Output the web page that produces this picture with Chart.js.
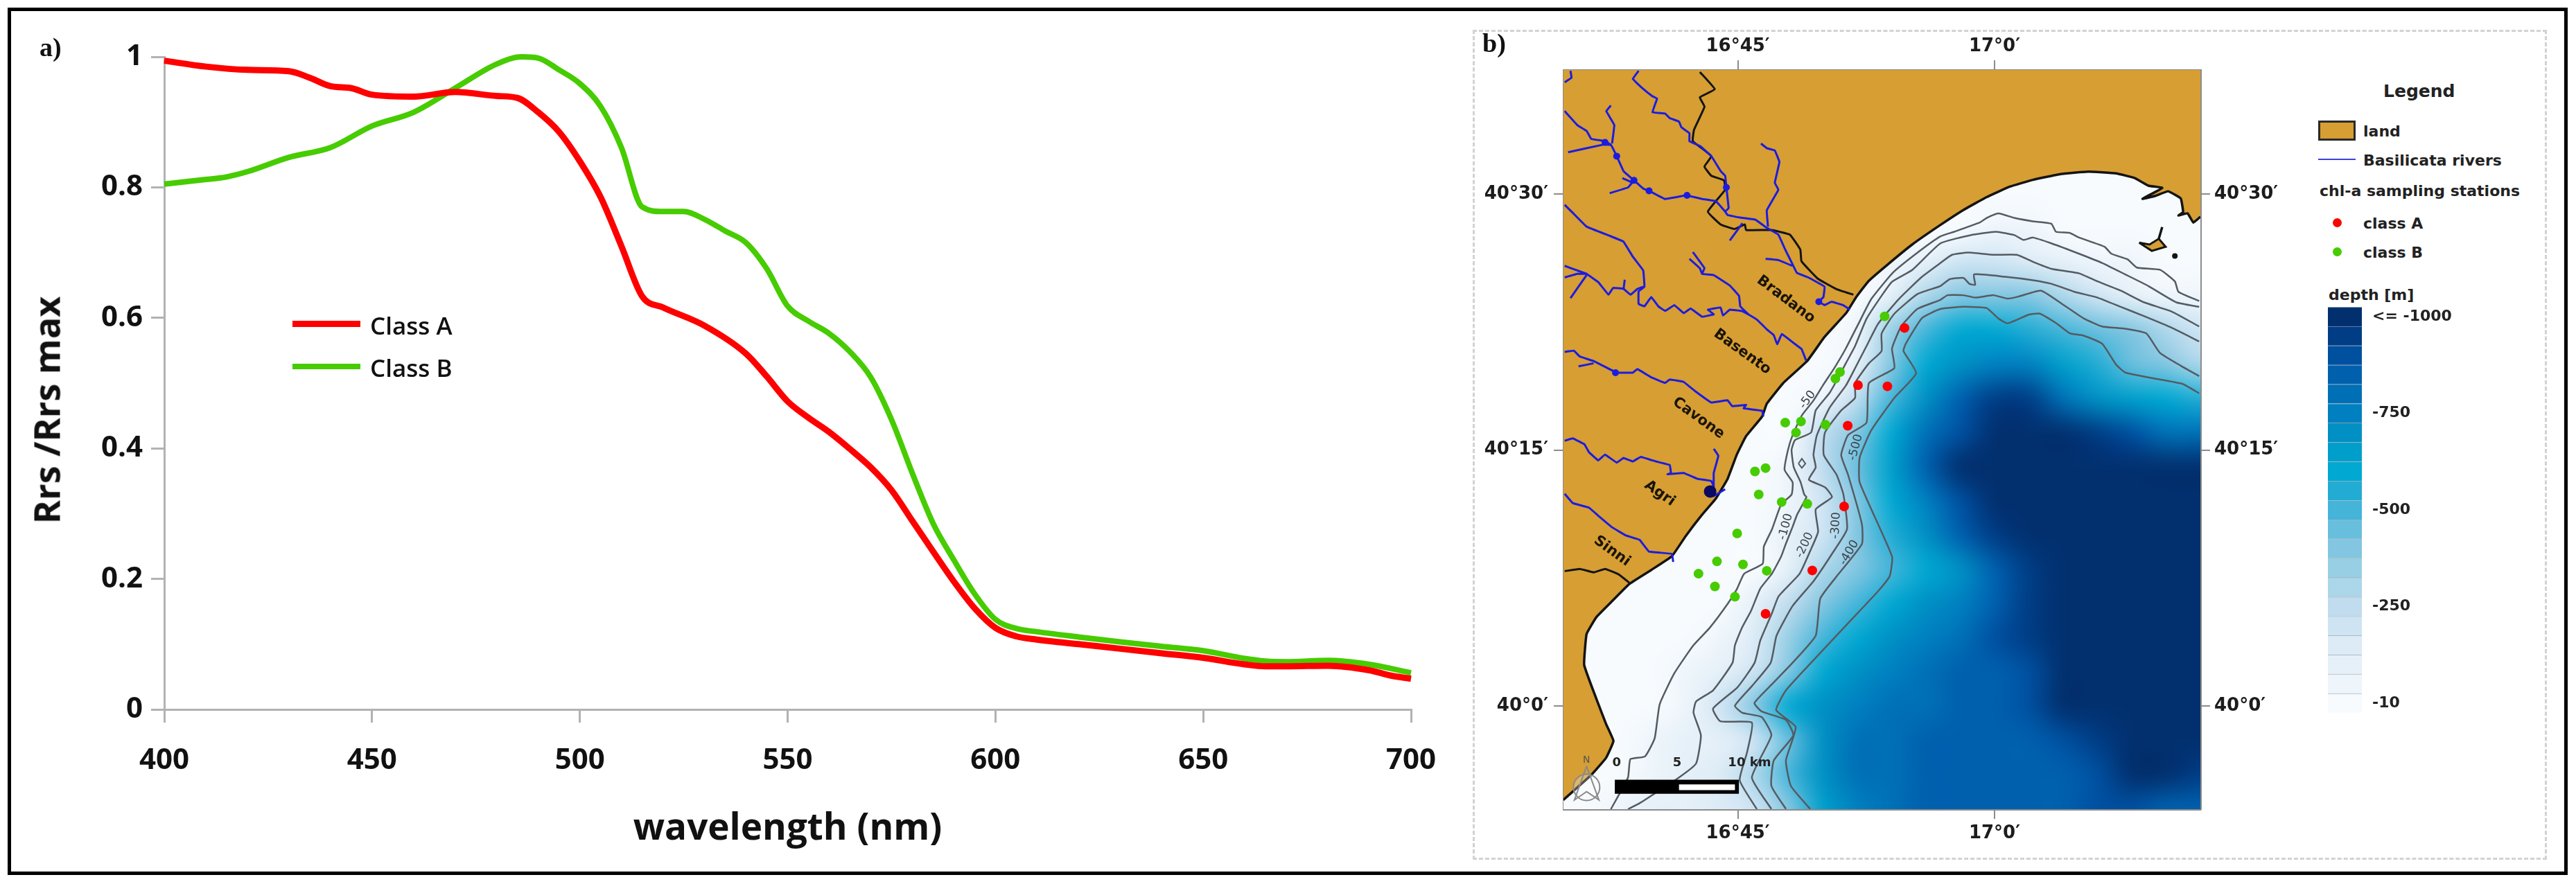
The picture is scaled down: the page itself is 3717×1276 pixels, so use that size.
<!DOCTYPE html>
<html>
<head>
<meta charset="utf-8">
<title>Rrs spectra and sampling stations</title>
<script src="https://cdn.jsdelivr.net/npm/chart.js@4"></script>
<style>
  html,body{margin:0;padding:0;background:#fff;}
  body{position:relative;width:3717px;height:1276px;overflow:hidden;}
  canvas{position:absolute;}
  .frame{position:absolute;left:11px;top:11px;width:3684px;height:1242px;border:5px solid #000;}
  .dots{position:absolute;left:2125px;top:43px;width:1544px;height:1192px;border:3px dashed #d2d2d2;}
  .lbl{position:absolute;white-space:nowrap;transform:translateY(-50%);color:#111;}
  .leg{font:bold 22px "DejaVu Sans";color:#222;}
  .swatch{position:absolute;}
</style>
</head>
<body>
<div class="frame"></div>
<div class="dots"></div>
<canvas id="spectra" width="2120" height="1276" style="left:0;top:0"></canvas>
<canvas id="map" width="1200" height="1276" style="left:2100px;top:0"></canvas>
<canvas id="depthBar" width="220" height="586" style="left:3359px;top:443px"></canvas>

<script>
/* =========================================
   PANEL A DATA  (wavelength nm, Rrs/Rrs max)
========================================= */

const classAWave = [400,410,420,430,435,440,445,450,460,470,480,485,490,495,500,505,510,515,520,530,540,545,550,555,560,565,570,575,580,585,590,595,600,605,610,620,630,640,650,660,665,670,680,690,695,700];
const classARrs  = [.994,.985,.98,.978,.968,.955,.952,.942,.939,.946,.94,.937,.915,.885,.84,.785,.71,.633,.616,.588,.545,.51,.472,.447,.425,.399,.371,.336,.289,.242,.196,.155,.125,.112,.107,.1,.093,.086,.079,.069,.066,.066,.067,.06,.052,.047];

const classBWave = [400,410,415,420,430,440,450,460,470,480,486,490,495,500,505,510,515,520,525,530,535,540,545,550,555,560,565,570,575,580,585,590,595,600,605,610,620,630,640,650,660,665,670,680,690,700];
const classBRrs  = [.805,.812,.816,.824,.846,.861,.894,.915,.952,.989,1,.998,.98,.959,.924,.861,.77,.763,.763,.751,.733,.715,.675,.618,.595,.576,.548,.509,.444,.362,.285,.229,.177,.138,.124,.119,.111,.1035,.0966,.09,.078,.074,.073,.075,.069,.056];

/* =========================================
   PANEL B DATA  (minutes east of 16deg, minutes north of 40deg)
========================================= */

const coast = [[72.03,28.67],[71.62,28.33],[71.28,28.87],[70.75,28.74],[71.02,28.94],[70.88,29.75],[70.14,30.16],[69.4,29.89],[68.65,29.72],[69.8,30.36],[68.99,30.49],[68.18,30.94],[67.1,31.21],[65.48,31.31],[63.86,31.17],[62.24,30.83],[60.89,30.43],[59.54,29.82],[58.19,29.07],[56.84,28.19],[55.2,27.05],[53.78,25.89],[52.64,24.9],[51.93,23.98],[51.35,23.05],[50.07,21.63],[49.05,20.21],[47.66,18.93],[46.69,17.71],[46.42,16.96],[45.48,15.81],[44.94,14.73],[44.4,13.31],[43.72,12.16],[42.91,11.21],[41.97,9.98],[41.15,8.78],[39.94,7.97],[38.66,7.15],[37.58,6.07],[36.73,5.2],[36.16,4.21],[36.02,2.4],[36.73,.42],[37.3,-1.06],[37.73,-2.05],[37.3,-3.04],[36.45,-4.03],[34.8,-5.51]];
const landCorners = [[34,-5.9],[34,38],[73,38],[73,28.6]];
const island = [[68.45,27.15],[69.06,27.04],[69.6,27.38],[70,26.91],[69.19,26.67]];
const islandSpike = [[69.6,27.38],[69.8,28.06]];
const islet = [[70.54,26.37]];

const borderNorth = [[42.78,37.15],[43.65,36.14],[42.78,35.67],[43.05,35.12],[42.44,33.77],[42.37,33.1],[43.45,32.22],[43.05,31.61],[43.45,31.07],[44.19,30.8],[44.26,30.25],[43.25,28.97],[43.99,28.22],[44.8,27.95],[45.41,28.22],[45.48,27.89],[46.96,27.89],[48.04,27.62],[48.65,26.74],[48.72,26.06],[49.66,25.05],[50.74,24.44],[51.75,24.1]];
const borderSouth = [[34.88,7.9],[35.76,8.03],[36.57,7.83],[37.24,8.03],[38.05,7.7],[38.66,7.22]];

const rivers = [
  [[35.22,37.22],[35.28,36.82],[34.88,36.55]],
  [[39.2,37.22],[38.86,36.75],[39.33,36.28],[40.01,35.73],[40.28,35.6],[40.01,34.79],[40.75,34.72],[41.02,34.45],[41.56,34.25],[41.7,33.91],[42.17,33.57],[42.17,33.1],[42.78,32.82],[43.45,32.22],[44,31.34],[44.26,31.07],[44.33,30.39],[44.46,29.17],[44.26,28.97],[44.4,28.77],[45.07,28.63],[46.02,28.5],[46.69,28.02],[47.37,27.62],[47.77,26.74],[48.18,25.92],[48.45,25.38],[49.12,25.11],[50.07,24.57],[50,23.96],[49.73,23.69],[50.07,23.49],[50.47,23.69],[51.15,23.49],[51.55,23.22]],
  [[34.88,34.86],[35.62,34.04],[36.16,33.7],[36.43,33.23],[37.24,33.1],[37.58,32.89],[37.92,32.22],[38.32,31.34],[38.86,30.86],[39.47,30.32],[39.81,30.19],[40.75,29.71],[41.97,29.92],[42.91,29.71],[43.72,29.58],[44.26,28.97]],
  [[35.08,32.45],[37.11,32.89],[37.58,32.89]],
  [[37.58,35.19],[37.31,34.86],[37.78,34.04],[37.65,32.96]],
  [[37.51,30.05],[38.59,30.39],[38.93,30.8]],
  [[38.25,30.93],[38.86,30.66]],
  [[46.35,32.96],[46.69,32.69],[47.16,32.55],[47.43,31.88],[47.16,30.66],[47.37,30.25],[46.69,29.04],[46.76,28.09]],
  [[45.27,28.29],[44.53,27.28]],
  [[46.62,26.2],[47.37,26.13],[48.18,25.79]],
  [[34.88,29.37],[35.35,28.9],[36.16,28.09],[37.51,27.55],[38.32,27.21],[38.86,26.33],[39.47,25.52],[39.54,24.57],[39.2,24.3],[39.2,23.56],[39.54,23.42],[39.94,23.96],[40.35,23.42],[40.75,23.15],[41.29,23.49],[41.83,23.02],[42.24,23.29],[42.91,22.81],[43.59,22.95],[43.25,23.22],[43.99,23.35],[44.13,22.88],[44.53,23.22],[45.21,23.15],[45.61,22.95],[46.15,22.61],[46.69,22.07],[47.1,21.73],[47.3,21.19],[47.57,21.8],[48.18,21.33],[48.72,20.92],[48.99,20.24]],
  [[34.88,25.79],[35.62,25.52],[36.16,25.32],[36.84,24.84],[37.44,24.1],[37.71,24.5],[38.32,24.44],[38.73,24.1],[39.13,24.44],[39.47,24.57]],
  [[38.39,24.98],[38.32,24.44]],
  [[34.88,25.11],[35.62,25.32],[36.16,25.32]],
  [[35.22,23.9],[36.16,25.25]],
  [[42.37,26.6],[43.05,25.65],[42.91,25.32],[43.59,25.25],[44.53,24.64],[45.07,24.03],[45.14,23.42],[45.61,22.95]],
  [[42.17,26.2],[42.78,25.65],[42.91,25.32]],
  [[34.88,20.75],[35.42,20.82],[35.76,20.48],[36.57,20.21],[37.11,19.94],[37.92,19.53],[38.86,19.53],[39.13,19.74],[39.94,19.26],[40.75,18.93],[41.02,19.13],[41.83,18.99],[42.5,18.45],[43.45,17.78],[44.4,17.91],[44.67,17.57],[45.48,17.64],[45.34,17.44],[46.42,17.3],[46.49,16.96]],
  [[35.69,19.9],[36.57,20.08]],
  [[34.88,15.54],[35.35,15.68],[36.03,15.34],[36.3,14.87],[36.84,14.39],[37.24,14.73],[37.92,14.26],[38.32,14.53],[38.86,14.33],[39.33,14.6],[40.21,14.33],[41.02,14.12],[41.09,13.65],[40.89,13.58],[41.83,13.65],[42.64,13.31],[43.45,13.18],[43.59,12.84],[43.32,12.57],[43.59,12.3],[44.26,12.7]],
  [[43.59,15.07],[43.86,14.66],[43.59,13.65],[43.59,12.84]],
  [[34.88,12.43],[35.35,11.89],[36.3,11.62],[36.84,11.15],[37.65,10.47],[38.46,9.99],[39.26,9.73],[39.8,9.05],[41.15,8.91],[41.22,8.44]]
];
const riverBlobs = [[38.93,30.8],[39.81,30.19],[42.03,29.92],[37.24,33.03],[37.92,32.22],[37.85,19.53],[49.73,23.69],[44.33,30.39]];
const agriMouth = [[43.38,12.57]];

const contour1 = [[71.96,23.73],[70.75,24.27],[70.54,24.88],[69.67,25.56],[68.32,25.69],[67.78,26.17],[66.83,26.5],[66.43,26.91],[64.94,27.45],[64.4,27.72],[63.59,27.79],[63.32,28.26],[62.24,28.4],[61.16,28.6],[60.22,28.87],[59.54,28.6],[59.14,28.33],[57.65,27.79],[56.84,27.52],[55.48,26.55],[54.06,25.39],[52.8,23.85],[52.12,22.54],[51.31,20.95],[50.63,19.79],[49.96,18.77],[49.42,17.9],[48.74,17.03],[48.2,15.87],[47.93,15],[47.73,13.84],[48.2,13.11],[48.14,12.39],[47.53,11.81],[47,10.36],[46.52,9.34],[46.45,8.33],[45.37,7.75],[44.96,6.88],[44.42,6.01],[43.34,4.56],[42.4,3.55],[41.28,1.9],[40.43,.09],[40.14,-1.89],[39.57,-2.96],[38.72,-3.12],[38.58,-4.19],[37.58,-6.05]];
const contour2 = [[71.96,23.39],[70.61,23.66],[68.99,24.61],[67.64,25.29],[66.29,25.96],[64.94,26.5],[63.32,27.11],[62.24,27.45],[61.7,27.31],[61.16,27.59],[60.08,27.79],[58.6,27.59],[56.84,27.11],[55.2,25.56],[54.01,24.86],[53.47,24.14],[52.52,22.69],[51.85,21.09],[51.31,20.08],[50.77,19.06],[50.36,18.34],[49.55,17.32],[49.28,16.02],[48.34,15.58],[48.14,15],[48.27,13.98],[48.67,13.11],[48.88,12.39],[49.01,12.24],[48.47,11.23],[48.2,10.5],[47.8,9.49],[47.53,8.76],[46.99,7.75],[46.31,6.88],[45.77,5.57],[45.23,4.56],[44.83,3.55],[44.69,2.53],[43.55,.91],[42.56,.26],[42.41,-.4],[42.84,-1.72],[42.56,-3.37],[41.56,-4.19],[39.29,-5.68],[38.58,-6.05]];
const contour3 = [[71.96,22.24],[70.34,23.12],[68.72,23.66],[67.37,24.34],[66.02,24.88],[64.94,25.35],[63.32,25.62],[62.24,26.03],[61.3,26.44],[59.95,26.44],[58.46,26.57],[57.52,26.44],[56.84,25.96],[55.76,25.15],[54.41,23.85],[53.2,22.4],[52.52,21.09],[51.85,19.79],[51.31,18.77],[50.36,17.47],[49.62,15.87],[49.42,14.71],[49.55,13.98],[49.15,13.26],[50.09,12.82],[50.5,12.24],[49.55,11.52],[49.69,10.21],[49.28,9.2],[48.61,7.75],[47.39,6.44],[46.99,5.43],[46.31,3.83],[45.98,2.53],[44.97,1.08],[43.55,-.16],[43.98,-.9],[45.82,-.98],[45.54,-2.71],[45.11,-4.36],[46.11,-6.05]];
const contour4 = [[71.96,21.36],[70.34,22.17],[68.72,22.85],[67.37,23.39],[66.02,23.93],[64.67,24.27],[63.32,24.74],[62.24,24.95],[60.62,25.15],[58.8,25.29],[58.87,24.68],[58.53,24.74],[58.19,25.08],[57.38,25.01],[56.84,24.61],[55.5,24.14],[54.14,22.98],[53.4,21.82],[53.4,20.8],[52.66,20.08],[51.85,18.92],[51.85,18.05],[51.04,17.32],[50.09,16.02],[50.02,14.71],[50.77,13.55],[51.17,12.39],[51.38,10.36],[50.5,8.91],[49.42,7.31],[48.2,5.86],[47.26,4.12],[46.92,2.53],[45.82,1.16],[44.83,.01],[45.26,-.4],[46.39,-.65],[46.96,-1.72],[45.82,-4.19],[46.96,-6.04]];
const contour5 = [[71.96,19.33],[70.88,19.94],[69.67,20.69],[68.86,21.84],[67.64,22.11],[66.29,22.24],[65.21,22.71],[63.99,23.53],[62.71,24.34],[61.43,24],[60.76,23.87],[59.95,24.07],[58.87,23.93],[58.19,24.07],[57.25,24.07],[56.84,23.8],[55.5,23.27],[54.55,22.25],[54.01,20.95],[54.14,19.79],[52.66,18.92],[52.52,16.6],[51.44,15.87],[51.04,14.71],[51.44,13.55],[52.25,10.65],[52.25,9.49],[50.9,7.75],[49.82,6.3],[49.55,4.12],[48.2,2.53],[46.96,1.24],[45.97,.17],[46.39,-.32],[47.81,-.82],[48.24,-1.72],[47.1,-3.2],[46.96,-4.69],[47.81,-6.04]];
const contour6 = [[71.96,18.32],[71.02,18.86],[69.67,19.13],[67.64,19.54],[67.1,20.01],[66.29,21.23],[65.21,21.7],[64.4,21.84],[63.59,22.44],[62.64,22.99],[61.97,22.92],[60.76,22.42],[60.22,22.71],[59.54,23.32],[58.19,23.39],[56.84,23.26],[55.77,22.74],[54.82,21.24],[54.68,20.8],[55.42,19.5],[54.14,18.05],[52.8,16.16],[52.12,14.56],[52.12,13.11],[54.01,8.76],[53.87,7.6],[53.2,6.73],[51.44,4.85],[49.28,2.53],[47.81,.91],[47.24,-.24],[48.38,-1.23],[47.81,-3.2],[48.1,-4.69],[49.23,-6.04]];
const contourRing = [[48.54,14.2],[48.74,14.49],[48.95,14.2],[48.74,13.95]];

const stationsA = [[54.74,22.15],[52.02,18.8],[53.74,18.73],[51.42,16.42],[51.21,11.69],[49.35,7.94],[46.62,5.4]];
const stationsB = [[53.58,22.83],[50.97,19.57],[50.7,19.18],[47.77,16.6],[48.69,16.67],[48.4,16.02],[50.12,16.48],[46.62,13.94],[46,13.74],[46.22,12.39],[47.56,11.95],[49.06,11.84],[44.96,10.11],[43.78,8.47],[45.3,8.29],[46.69,7.92],[42.7,7.75],[43.66,7],[44.83,6.4]];

const riverNames  = ["Bradano","Basento","Cavone","Agri","Sinni"];
const riverLon    = [47.81,45.26,42.7,40.43,37.64];
const riverLat    = [23.82,20.75,16.86,12.45,9.07];
const riverAngle  = [37,36,36,35,36];

const depthNames  = ["-50","-100","-200","-300","-400","-500"];
const depthLblLon = [49.08,47.8,48.91,50.74,51.51,51.89];
const depthLblLat = [17.94,10.5,9.42,10.58,8.98,15.15];
const depthAngle  = [-54,-75,-65,-87,-60,-75];

const scaleBarBlack = [[37.81,-4.32],[45.06,-4.32],[45.06,-5.15],[37.81,-5.15]];
const scaleBarWhite = [[41.56,-4.6],[44.83,-4.6],[44.83,-4.93],[41.56,-4.93]];
const scaleNames = ["0","5","10 km"];
const scaleLon   = [37.92,41.45,45.68];
const scaleLat   = [-3.34,-3.34,-3.34];

const northArrow = [[36.16,-3.53],[35.45,-5.51],[36.16,-5.02],[36.88,-5.51]];
const northRing  = [[36.16,-4.77]];

const depthLon = [34,36,38,40,42,44,46,48,50,52,54,56,58,60,62,64,66,68,70,72];
const depthLat = [32,30,28,26,24,22,20,18,16,14,12,10,8,6,4,2,0,-2,-4,-6];
const depth32 = [10,10,10,10,10,10,10,10,10,10,10,10,10,10,10,10,10,10,10,10];
const depth30 = [10,10,10,10,10,10,10,10,10,10,10,10,10,10,10,10,10,10,10,10];
const depth28 = [10,10,10,10,10,10,10,10,10,10,10,10,30,50,35,22,15,12,10,10];
const depth26 = [10,10,10,10,10,10,10,10,10,10,35,90,200,210,180,110,70,40,22,15];
const depth24 = [10,10,10,10,10,10,10,10,10,15,130,300,400,400,410,290,200,110,60,40];
const depth22 = [10,10,10,10,10,10,10,10,10,80,350,520,620,600,540,510,470,400,320,210];
const depth20 = [10,10,10,10,10,10,10,10,30,100,400,610,720,770,740,640,540,480,400,330];
const depth18 = [10,10,10,10,10,10,10,10,60,280,490,680,830,950,960,820,720,660,620,560];
const depth16 = [10,10,10,10,10,10,10,25,250,420,600,780,920,1000,1000,1000,950,900,820,780];
const depth14 = [10,10,10,10,10,10,10,70,250,480,650,830,980,1000,1000,1000,1000,1000,1000,980];
const depth12 = [10,10,10,10,10,10,15,70,200,430,620,760,920,1000,1000,1000,1000,1000,1000,1000];
const depth10 = [10,10,10,10,10,10,25,100,230,430,530,680,850,970,1000,1000,1000,1000,1000,1000];
const depth08 = [10,10,10,10,10,15,25,130,300,400,510,600,720,830,950,1000,1000,1000,1000,1000];
const depth06 = [10,10,10,10,10,20,100,260,400,500,600,680,770,870,950,1000,1000,1000,1000,1000];
const depth04 = [10,10,10,10,30,80,170,340,510,600,680,750,820,880,950,1000,1000,1000,1000,1000];
const depth02 = [10,10,10,15,60,90,210,400,600,690,750,790,830,870,920,1000,1000,1000,1000,1000];
const depth00 = [10,10,10,30,70,230,400,610,680,750,790,820,850,870,900,1000,1000,1000,1000,1000];
const depthM2 = [10,10,10,50,90,130,200,450,700,780,810,830,850,860,870,880,960,1000,1000,1000];
const depthM4 = [10,10,15,55,110,150,300,500,720,790,820,830,830,840,850,870,920,1000,1000,960];
const depthM6 = [10,10,60,110,130,160,210,420,650,770,810,830,830,840,850,860,880,900,860,830];
const depthGrid = [depth32,depth30,depth28,depth26,depth24,depth22,depth20,depth18,depth16,depth14,depth12,depth10,depth08,depth06,depth04,depth02,depth00,depthM2,depthM4,depthM6];

/* colour bar, shallow (-10) to deep (<= -1000) */
const depthColors = ["#f7fbfe","#eef5fb","#e5f0f8","#dcebf6","#cee4f3","#c0dcee","#acd6ea","#98cfe5","#82c6e1","#68bedd","#44b5d9","#22acd4","#00a8d2","#009fcb","#0090c4","#0080c0","#0070b6","#0060ae","#0050a0","#003d85","#02306f"];
const depthTickRows   = [.5,5.5,10.5,15.5,20.5];
const depthTickLabels = ["-10","-250","-500","-750","<= -1000"];

/* =========================================
   HELPERS
========================================= */

const RED = "#ff0000";
const GREEN = "#46cc00";
const LAND = "#d69e33";
const RIVER = "#1c1ce0";
const CONTOUR = "#555b62";
const FRAME = "#8c8c8c";

function pts(list){
  return list.map(p => ({x:p[0],y:p[1]}));
}

function zip(xs,ys){
  return xs.map((x,i) => ({x:x,y:ys[i]}));
}

function label(text,x,y,css){
  const el = document.createElement("div");
  el.className = "lbl";
  el.textContent = text;
  el.style.left = x+"px";
  el.style.top = y+"px";
  el.style.cssText += css || "";
  document.body.appendChild(el);
  return el;
}

function swatch(x,y,w,h,css){
  const el = document.createElement("div");
  el.className = "swatch";
  el.style.cssText = "left:"+x+"px;top:"+y+"px;width:"+w+"px;height:"+h+"px;"+css;
  document.body.appendChild(el);
}

function lineSet(list,color,width,tension){
  return {
    type:"scatter",
    data:pts(list),
    showLine:true,
    pointRadius:0,
    borderColor:color,
    borderWidth:width,
    tension:tension,
    fill:false
  };
}

function fillSet(list,color,tension){
  return {
    type:"scatter",
    data:pts(list),
    showLine:true,
    pointRadius:0,
    borderWidth:0,
    borderColor:"transparent",
    backgroundColor:color,
    tension:tension || 0,
    fill:"shape"
  };
}

function dotSet(list,color,radius){
  return {
    type:"scatter",
    data:pts(list),
    pointRadius:radius,
    pointBackgroundColor:color,
    pointBorderWidth:0,
    showLine:false
  };
}

/* =========================================
   PANEL A
========================================= */

const axisGrey = "#b2b2b2";

new Chart(document.getElementById("spectra"),{
  type:"scatter",
  data:{
    datasets:[
      {label:"Class A",data:zip(classAWave,classARrs),showLine:true,pointRadius:0,borderColor:RED,borderWidth:9,cubicInterpolationMode:"monotone",clip:false},
      {label:"Class B",data:zip(classBWave,classBRrs),showLine:true,pointRadius:0,borderColor:GREEN,borderWidth:8,cubicInterpolationMode:"monotone",clip:false}
    ]
  },
  options:{
    responsive:false,
    animation:false,
    devicePixelRatio:1,
    events:[],
    layout:{autoPadding:false,padding:{top:82,right:84,left:0,bottom:0}},
    plugins:{legend:{display:false},tooltip:{enabled:false}},
    scales:{
      x:{
        type:"linear",min:400,max:700,
        afterFit:s => {s.height = 252;},
        border:{color:axisGrey,width:3},
        grid:{drawOnChartArea:false,color:axisGrey,lineWidth:3,tickLength:19},
        ticks:{stepSize:50,padding:30,color:"#111",font:{family:"Open Sans",weight:"bold",size:42}},
        title:{display:true,text:"wavelength (nm)",color:"#111",font:{family:"Open Sans",weight:"bold",size:53},padding:{top:0,bottom:47}}
      },
      y:{
        type:"linear",min:0,max:1,
        afterFit:s => {s.width = 237;},
        border:{color:axisGrey,width:3},
        grid:{drawOnChartArea:false,color:axisGrey,lineWidth:3,tickLength:19},
        ticks:{stepSize:.2,padding:12,color:"#111",font:{family:"Open Sans",weight:"bold",size:42},callback:v => String(+v.toFixed(1))}
      }
    }
  }
});

label("Rrs /Rrs max",66,592,"font:bold 52px 'Open Sans';transform:translate(-50%,-50%) rotate(-90deg);");
label("a)",57,68,"font:bold 38px 'Liberation Serif';");

swatch(422,463,98,9,"background:"+RED+";");
swatch(422,525,98,8,"background:"+GREEN+";");
label("Class A",534,469,"font:600 35px 'Open Sans';");
label("Class B",534,530,"font:600 35px 'Open Sans';");

/* =========================================
   PANEL B
========================================= */

function depthColor(d){
  const row = Math.max(0,Math.min(20,(d-10)/49.5));
  return depthColors[Math.round(row)];
}

const depthRaster = {
  id:"depthRaster",
  beforeDatasetsDraw(chart){
    const off = document.createElement("canvas");
    off.width = depthLon.length;
    off.height = depthLat.length;
    const oc = off.getContext("2d");
    depthGrid.forEach((row,j) => row.forEach((d,i) => {
      oc.fillStyle = depthColor(d);
      oc.fillRect(i,j,1,1);
    }));
    const {x,y} = chart.scales;
    const a = chart.chartArea;
    const ctx = chart.ctx;
    const x0 = x.getPixelForValue(depthLon[0]-1);
    const x1 = x.getPixelForValue(depthLon[depthLon.length-1]+1);
    const y0 = y.getPixelForValue(depthLat[0]+1);
    const y1 = y.getPixelForValue(depthLat[depthLat.length-1]-1);
    ctx.save();
    ctx.beginPath();
    ctx.rect(a.left,a.top,a.right-a.left,a.bottom-a.top);
    ctx.clip();
    ctx.imageSmoothingEnabled = true;
    ctx.imageSmoothingQuality = "high";
    ctx.drawImage(off,x0,y0,x1-x0,y1-y0);
    ctx.restore();
  }
};

const mapLabels = {
  id:"mapLabels",
  afterDatasetsDraw(chart){
    const {x,y} = chart.scales;
    const ctx = chart.ctx;
    function put(text,lon,lat,deg,font,color){
      ctx.save();
      ctx.translate(x.getPixelForValue(lon),y.getPixelForValue(lat));
      ctx.rotate(deg*Math.PI/180);
      ctx.font = font;
      ctx.fillStyle = color;
      ctx.textAlign = "center";
      ctx.textBaseline = "middle";
      ctx.fillText(text,0,0);
      ctx.restore();
    }
    riverNames.forEach((n,i) => put(n,riverLon[i],riverLat[i],riverAngle[i],"bold 21px 'DejaVu Sans'","#1a1408"));
    depthNames.forEach((n,i) => put(n,depthLblLon[i],depthLblLat[i],depthAngle[i],"17px 'DejaVu Sans'","#3c4248"));
    scaleNames.forEach((n,i) => put(n,scaleLon[i],scaleLat[i],0,"bold 18px 'DejaVu Sans'","#222"));
    put("N",36.16,-3.2,0,"14px 'DejaVu Sans'","#555");
  }
};

const mapDatasets = [
  fillSet(scaleBarWhite,"#fff"),
  fillSet(scaleBarBlack,"#000"),
  lineSet(northArrow.concat([northArrow[0]]),"#8a8a8a",2,0),
  {type:"scatter",data:pts(northRing),pointRadius:19,pointBackgroundColor:"rgba(255,255,255,.25)",pointBorderColor:"#8a8a8a",pointBorderWidth:2},
  dotSet(stationsA,RED,7),
  dotSet(stationsB,GREEN,7),
  dotSet(agriMouth,"#0a0a60",9),
  dotSet(riverBlobs,RIVER,5)
];

rivers.forEach(r => mapDatasets.push(lineSet(r,RIVER,3,.05)));

mapDatasets.push(
  lineSet(borderNorth,"#141414",3,.1),
  lineSet(borderSouth,"#141414",3,.1),
  lineSet(coast,"#141414",3.5,.1),
  dotSet(islet,"#141414",4),
  lineSet(islandSpike,"#141414",3.5,0),
  lineSet(island.concat([island[0]]),"#141414",3,0),
  fillSet(island,LAND),
  fillSet(coast.concat(landCorners),LAND,.1),
  lineSet(contourRing.concat([contourRing[0]]),CONTOUR,2,0),
  lineSet(contour1,CONTOUR,2.5,.15),
  lineSet(contour2,CONTOUR,2.5,.15),
  lineSet(contour3,CONTOUR,2.5,.15),
  lineSet(contour4,CONTOUR,2.5,.15),
  lineSet(contour5,CONTOUR,2.5,.15),
  lineSet(contour6,CONTOUR,2.5,.15)
);

const lonLabel = v => v >= 60 ? "17°"+(v-60)+"′" : "16°"+v+"′";
const latLabel = v => "40°"+v+"′";
const tickFont = {family:"DejaVu Sans",weight:"bold",size:26};

function mapAxis(axis,position,size,cb,pad){
  return {
    type:"linear",
    axis:axis,
    position:position,
    min:axis === "x" ? 34.81 : -6.05,
    max:axis === "x" ? 72.03 : 37.27,
    afterFit:s => {
      if(axis === "x") s.height = size;
      else s.width = size;
    },
    border:{color:FRAME,width:3},
    grid:{drawOnChartArea:false,color:FRAME,lineWidth:2,tickLength:14},
    ticks:{stepSize:15,includeBounds:false,padding:pad,color:"#1c1c1c",font:tickFont,callback:cb}
  };
}

new Chart(document.getElementById("map"),{
  type:"scatter",
  data:{datasets:mapDatasets},
  options:{
    responsive:false,
    animation:false,
    devicePixelRatio:1,
    events:[],
    layout:{autoPadding:false,padding:0},
    plugins:{legend:{display:false},tooltip:{enabled:false}},
    scales:{
      x:mapAxis("x","bottom",108,lonLabel,6),
      xTop:mapAxis("x","top",101,lonLabel,4),
      y:mapAxis("y","left",156,latLabel,8),
      yRight:mapAxis("y","right",125,latLabel,6)
    }
  },
  plugins:[depthRaster,mapLabels]
});

label("b)",2139,62,"font:bold 38px 'Liberation Serif';");

/* map legend */
label("Legend",3439,131,"font:bold 25px 'DejaVu Sans';color:#222;");
swatch(3345,174,48,23,"background:"+LAND+";border:3px solid #2a2a2a;");
label("land",3410,189,"").className += " leg";
swatch(3345,229,54,2,"background:#4040e0;");
label("Basilicata rivers",3410,231,"").className += " leg";
label("chl-a sampling stations",3347,275,"").className += " leg";
swatch(3366,315,13,13,"background:"+RED+";border-radius:50%;");
label("class A",3410,322,"").className += " leg";
swatch(3366,357,13,13,"background:"+GREEN+";border-radius:50%;");
label("class B",3410,364,"").className += " leg";
label("depth [m]",3360,425,"").className += " leg";

/* colour bar */
new Chart(document.getElementById("depthBar"),{
  type:"bar",
  data:{
    labels:["depth"],
    datasets:depthColors.map(c => ({
      data:[1],
      backgroundColor:c,
      borderColor:"rgba(70,90,110,.4)",
      borderWidth:{top:1,bottom:0,left:0,right:0},
      borderSkipped:false,
      barPercentage:1,
      categoryPercentage:1
    }))
  },
  options:{
    responsive:false,
    animation:false,
    devicePixelRatio:1,
    events:[],
    layout:{autoPadding:false,padding:0},
    plugins:{legend:{display:false},tooltip:{enabled:false}},
    scales:{
      x:{stacked:true,display:false},
      y:{
        stacked:true,
        position:"right",
        min:0,max:21,
        afterFit:s => {
          s.width = 171;
          s.paddingTop = 0;
          s.paddingBottom = 0;
        },
        afterBuildTicks:s => {s.ticks = depthTickRows.map(v => ({value:v}));},
        border:{display:false},
        grid:{display:false,drawTicks:false},
        ticks:{
          padding:15,
          color:"#222",
          autoSkip:false,
          font:{family:"DejaVu Sans",weight:"bold",size:22},
          callback:v => depthTickLabels[depthTickRows.indexOf(v)]
        }
      }
    }
  }
});
</script>
</body>
</html>
